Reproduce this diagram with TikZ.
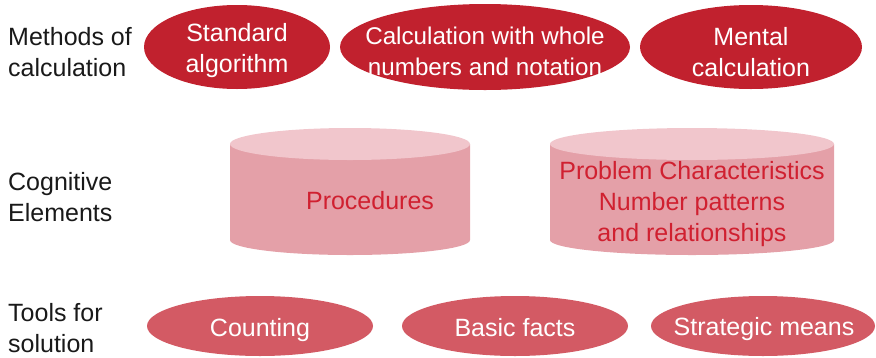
\documentclass[tikz,border=0pt]{standalone}
\usepackage{fontspec}
\setmainfont{Liberation Sans}
\definecolor{topred}{RGB}{193,33,46}
\definecolor{lowred}{RGB}{211,90,100}
\definecolor{cyltop}{RGB}{241,198,204}
\definecolor{cylbody}{RGB}{228,160,168}
\definecolor{cyltext}{RGB}{208,32,48}
\definecolor{labtext}{RGB}{25,25,25}
\tikzset{
  txt/.style={font=\fontsize{25}{31}\selectfont, align=center, inner sep=0pt},
  wtxt/.style={txt, text=white},
  ctxt/.style={txt, text=cyltext},
  ltxt/.style={txt, align=left, anchor=west, text=labtext},
}
\begin{document}
\begin{tikzpicture}[x=1pt,y=-1pt]
\useasboundingbox (0,0) rectangle (876,357);
% row labels
\node[ltxt] (l1) at (8,52) {Methods of\\calculation};
\node[ltxt] (l2) at (8,197) {Cognitive\\Elements};
\node[ltxt] (l3) at (8,328) {Tools for\\solution};
% top ellipses
\fill[topred] (237,47) ellipse [x radius=93, y radius=42];
\fill[topred] (485,47) ellipse [x radius=145, y radius=43];
\fill[topred] (751,47) ellipse [x radius=111, y radius=42];
\node[wtxt] (m1) at (237,51) {Standard\\algorithm};
\node[wtxt, font=\fontsize{24.2}{31}\selectfont] (m2) at (485,51) {Calculation with whole\\numbers and notation};
\node[wtxt] (m3) at (751,52) {Mental\\calculation};
% cylinders
\fill[cylbody] (230,144) -- (230,240) arc[start angle=180, end angle=0, x radius=120, y radius=15] -- (470,144) -- cycle;
\fill[cyltop] (350,144) ellipse [x radius=120, y radius=16];
\fill[cylbody] (550,144) -- (550,240) arc[start angle=180, end angle=0, x radius=142, y radius=15] -- (834,144) -- cycle;
\fill[cyltop] (692,144) ellipse [x radius=142, y radius=16];
\node[ctxt] (c1) at (370,201) {Procedures};
\node[ctxt] (c2) at (692,204) {Problem Characteristics\\Number patterns\\and relationships};
% bottom ellipses
\fill[lowred] (260,326) ellipse [x radius=113, y radius=30];
\fill[lowred] (515,326) ellipse [x radius=113, y radius=30];
\fill[lowred] (763,326) ellipse [x radius=112, y radius=30];
\node[wtxt] (b1) at (260,330) {Counting};
\node[wtxt] (b2) at (515,328) {Basic facts};
\node[wtxt] (b3) at (764,329) {Strategic means};
\end{tikzpicture}
\end{document}
